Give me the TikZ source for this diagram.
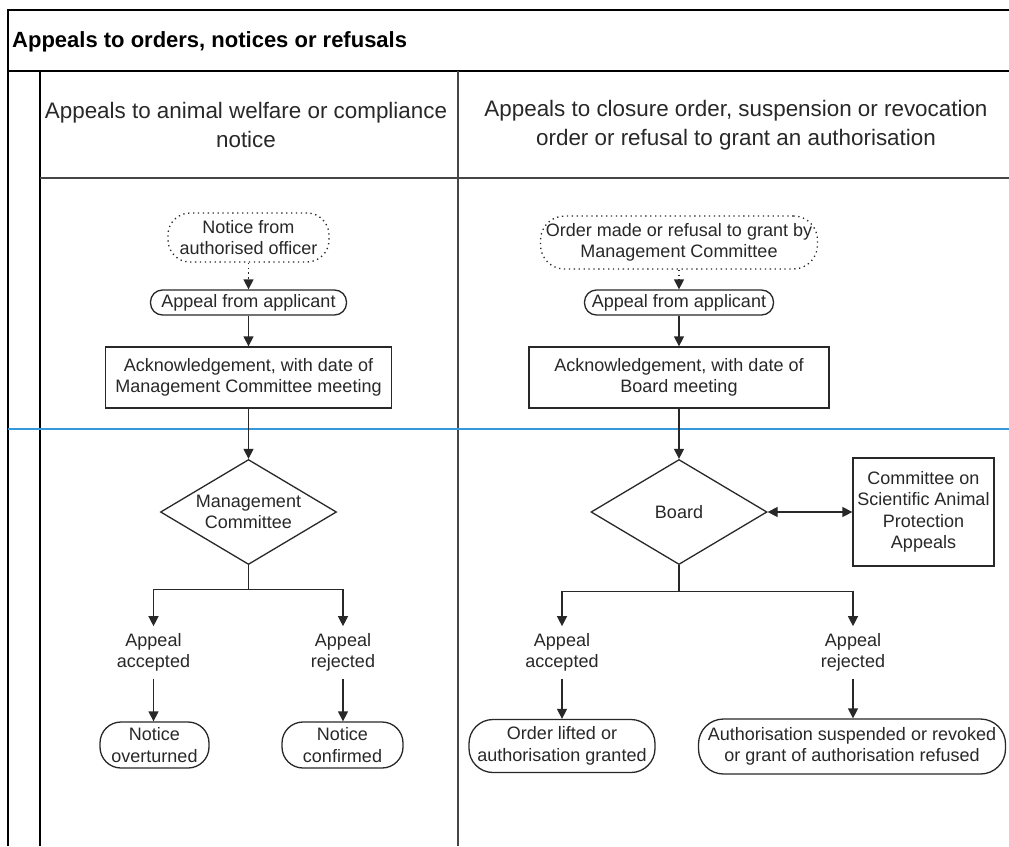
\documentclass[tikz,border=0pt]{standalone}
\usepackage{fontspec}
\setmainfont{Liberation Sans}
\usetikzlibrary{arrows.meta,shapes.geometric}
\definecolor{blueline}{RGB}{52,152,219}
\definecolor{ink}{RGB}{40,40,40}
\definecolor{framegray}{RGB}{70,70,70}
\newcommand\nodefont{\fontsize{18}{21.5}\selectfont}
\newcommand\hdrfont{\fontsize{22.4}{29.5}\selectfont}
\begin{document}
\begin{tikzpicture}[x=1pt,y=-1pt,
  frame/.style={line width=2pt,black},
  box/.style={draw=ink,line width=1.3pt,fill=white,inner sep=0pt,align=center,font=\nodefont,text=ink},
  termbox/.style={box,rounded corners=#1},
  dotbox/.style={box,dash pattern=on 1.3pt off 3.6pt,rounded corners=#1},
  lbl/.style={inner xsep=0pt,inner ysep=7pt,align=center,font=\nodefont,text=ink},
  dia/.style={draw=ink,line width=1.3pt,diamond,fill=white,inner sep=0pt,minimum width=176pt,minimum height=105pt},
  line/.style={draw=ink,line width=1.3pt},
  arr/.style={line,-{Triangle[length=10pt,width=10pt]}},
  dblarr/.style={line,{Triangle[length=10pt,width=10pt]}-{Triangle[length=10pt,width=10pt]}},
  hdr/.style={inner sep=0pt,align=center,font=\hdrfont,text=ink},
]
\useasboundingbox (0,0) rectangle (1009,846);
\fill[white] (0,0) rectangle (1009,846);

% frame
\draw[frame] (1009,10) -- (8,10) -- (8,846);
\draw[line width=2.6pt,black] (8,71) -- (1009,71);
\draw[frame] (40,71) -- (40,846);
\draw[line width=1.8pt,framegray] (458,71) -- (458,846);
\draw[line width=1.5pt,framegray] (40,178) -- (1009,178);
\draw[line width=2.2pt,blueline] (8,429) -- (1009,429);

% titles
\node[anchor=base west,inner sep=0pt,font=\fontsize{22}{26}\selectfont\bfseries] (title) at (12,47) {Appeals to orders, notices or refusals};
\node[hdr] (hdrL) at (246,125) {Appeals to animal welfare or compliance\\notice};
\node[hdr] (hdrR) at (736,125) {Appeals to closure order, suspension or revocation\\order or refusal to grant an authorisation};

% left column
\node[dotbox=22pt,minimum width=161pt,minimum height=49pt] (nfo) at (248.5,237.5) {Notice from\\authorised officer};
\node[termbox=12pt,minimum width=196pt,minimum height=25pt] (afa1) at (248.5,302.5) {Appeal from applicant};
\node[box,minimum width=286pt,minimum height=61pt] (ack1) at (248.5,377.5) {Acknowledgement, with date of\\Management Committee meeting};
\node[dia,label={[font=\nodefont,text=ink,align=center,inner sep=0pt]center:Management\\Committee}] (mc) at (248.5,512) {};
\node[lbl] (acc1) at (153.5,652.5) {Appeal\\accepted};
\node[lbl] (rej1) at (343,652.5) {Appeal\\rejected};
\node[termbox=21pt,minimum width=109pt,minimum height=46pt] (no1) at (154.5,745) {Notice\\overturned};
\node[termbox=21pt,minimum width=121pt,minimum height=46pt] (nc1) at (342.5,745) {Notice\\confirmed};

% right column
\node[dotbox=24pt,minimum width=277pt,minimum height=53pt] (omr) at (679,242.5) {Order made or refusal to grant by\\Management Committee};
\node[termbox=12pt,minimum width=189pt,minimum height=25pt] (afa2) at (679,302.5) {Appeal from applicant};
\node[box,minimum width=300pt,minimum height=61pt] (ack2) at (679,377.5) {Acknowledgement, with date of\\Board meeting};
\node[dia,label={[font=\nodefont,text=ink,inner sep=0pt]center:Board}] (board) at (679,512) {};
\node[box,minimum width=141pt,minimum height=108pt] (casp) at (923.5,512) {Committee on\\Scientific Animal\\Protection\\Appeals};
\node[lbl] (acc2) at (562,652.5) {Appeal\\accepted};
\node[lbl] (rej2) at (853,652.5) {Appeal\\rejected};
\node[termbox=24pt,minimum width=186pt,minimum height=53pt] (olag) at (562,746) {Order lifted or\\authorisation granted};
\node[termbox=25pt,minimum width=307pt,minimum height=55pt] (asr) at (852,746.5) {Authorisation suspended or revoked\\or grant of authorisation refused};

% connectors left
\draw[arr,dash pattern=on 1.3pt off 3.6pt] (nfo) -- (afa1);
\draw[arr] (afa1) -- (ack1);
\draw[arr] (ack1) -- (mc);
\draw[arr] (mc.south) -- ++(0,24) -| (acc1.north);
\draw[arr] (mc.south) -- ++(0,24) -| (rej1.north);
\draw[arr] (acc1.south) -- (acc1.south |- no1.north);
\draw[arr] (rej1.south) -- (rej1.south |- nc1.north);

% connectors right
\draw[arr,dash pattern=on 1.3pt off 3.6pt] (omr) -- (afa2);
\draw[arr] (afa2) -- (ack2);
\draw[arr] (ack2) -- (board);
\draw[dblarr] (board.east) -- (casp.west);
\draw[arr] (board.south) -- ++(0,26) -| (acc2.north);
\draw[arr] (board.south) -- ++(0,26) -| (rej2.north);
\draw[arr] (acc2.south) -- (acc2.south |- olag.north);
\draw[arr] (rej2.south) -- (rej2.south |- asr.north);
\end{tikzpicture}
\end{document}
